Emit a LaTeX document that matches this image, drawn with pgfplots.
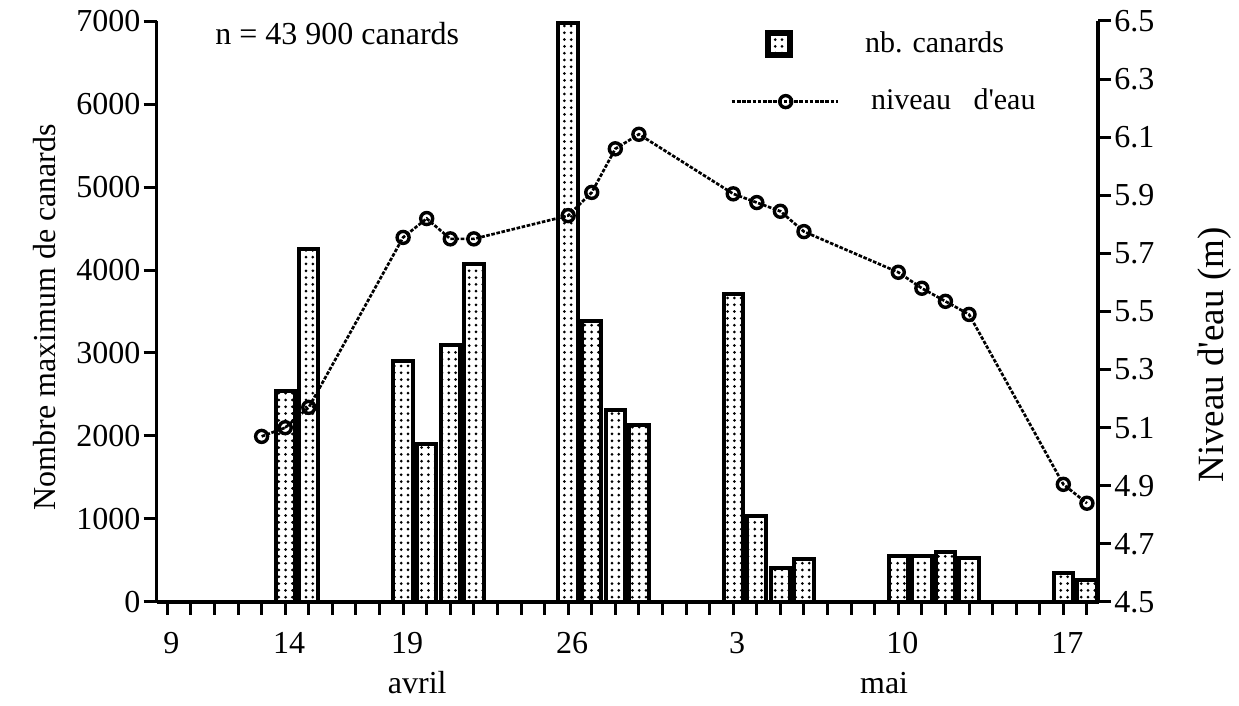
\documentclass[border=0pt]{standalone}
\usepackage{fontspec}
\setmainfont{Liberation Serif}
\usepackage{pgfplots}
\pgfplotsset{compat=1.18}
\usetikzlibrary{patterns}

\pgfdeclarepatternformonly{bigdots}{\pgfqpoint{-1pt}{-1pt}}{\pgfqpoint{1pt}{1pt}}{\pgfqpoint{3.4pt}{3.4pt}}{%
  \pgfpathcircle{\pgfqpoint{0pt}{0pt}}{0.75pt}\pgfusepath{fill}}

\pgfplotstableread{
day count
14 2540
15 4250
19 2900
20 1900
21 3100
22 4070
26 6980
27 3390
28 2310
29 2130
33 3710
34 1040
35 410
36 520
40 550
41 560
42 600
43 525
47 345
48 265
}\bars

\pgfplotstableread{
day level
13 5.07
14 5.10
15 5.17
19 5.755
20 5.82
21 5.75
22 5.75
26 5.83
27 5.91
28 6.06
29 6.11
33 5.905
34 5.875
35 5.845
36 5.775
40 5.635
41 5.58
42 5.535
43 5.49
47 4.905
48 4.84
}\niveau

\pgfplotsset{
  barlegend/.style={legend image code/.code={\path[draw=none] (0pt,0pt) -- (53pt,0pt); \draw[##1, line width=3.4pt] (18.1pt,-5.5pt) rectangle (29.1pt,5.5pt);}},
  linelegend/.style={legend image code/.code={\draw[mark repeat=2,mark phase=2,##1] plot coordinates {(0pt,0pt) (27pt,0pt) (53pt,0pt)};}},
}

\begin{document}
\fontsize{16}{19}\selectfont
\begin{tikzpicture}
\pgfplotsset{
  common/.style={
    scale only axis, width=470.65pt, height=290.5pt,
    xmin=8.55, xmax=48.47,
    at={(0,0)}, anchor=south west,
    axis line style={line width=1.6pt},
    tick style={line width=1.5pt, black},
    major tick length=6.5pt,
    tick align=outside,
    /pgf/number format/assume math mode=true,
    tick label style={font=\fontsize{16}{19}\selectfont},
    yticklabel style={inner sep=1.5pt},
    label style={font=\fontsize{16}{19}\selectfont},
    clip=false,
  }
}
\begin{axis}[common,
  axis x line*=bottom, axis y line*=left,
  ymin=0, ymax=7000, ytick={0,1000,...,7000},
  /pgf/number format/set thousands separator={},
  xtick={9,...,48},
  xticklabels={9,,,,,14,,,,,19,,,,,,,26,,,,,,,3,,,,,,,10,,,,,,,17,},
  xticklabel style={xshift=2pt, yshift=-3pt},
  ylabel={Nombre maximum de canards},
  ylabel style={at={(axis description cs:-0.119,0.49)}, anchor=center},
]
\addplot[ybar, bar width=0.82, draw=black, line width=2pt, pattern=bigdots, pattern color=black] table[x=day, y=count] {\bars};
\node[anchor=west, inner sep=0pt] at (axis description cs:0.062,0.979) {n = 43 900 canards};
\node at ({axis cs:19.6,0} |- {axis description cs:0,-0.139}) {avril};
\node at ({axis cs:39.4,0} |- {axis description cs:0,-0.139}) {mai};
\end{axis}
\begin{axis}[common,
  axis x line=none, axis y line*=right,
  ymin=4.5, ymax=6.5, ytick={4.5,4.7,4.9,5.1,5.3,5.5,5.7,5.9,6.1,6.3,6.5},
  yticklabel style={/pgf/number format/.cd, fixed, fixed zerofill, precision=1},
  ylabel={Niveau d\textquotesingle eau (m)},
  ylabel style={at={(axis description cs:1.124,0.425)}, anchor=center, font=\fontsize{18.5}{21}\selectfont},
  legend style={draw=none, fill=none, at={(axis description cs:0.609,0.99)}, anchor=north west, inner sep=0pt, row sep=12pt, legend cell align=left, font=\fontsize{15}{18}\selectfont},
]
\addlegendimage{draw=black, pattern=bigdots, pattern color=black, barlegend}
\addlegendentry{\hspace*{11pt}nb. canards}
\addplot[black, line width=1.35pt, dash pattern=on 1.8pt off 0.8pt,
  mark=o, mark size=3pt, mark options={solid, fill=white, line width=1.7pt}, linelegend]
  table[x=day, y=level] {\niveau};
\addlegendentry{\hspace*{14pt}niveau\ \ \ d\textquotesingle eau}
\end{axis}
\pgfresetboundingbox
\path (-78.35pt,-52pt) rectangle (541.15pt,301pt);
\end{tikzpicture}
\end{document}
